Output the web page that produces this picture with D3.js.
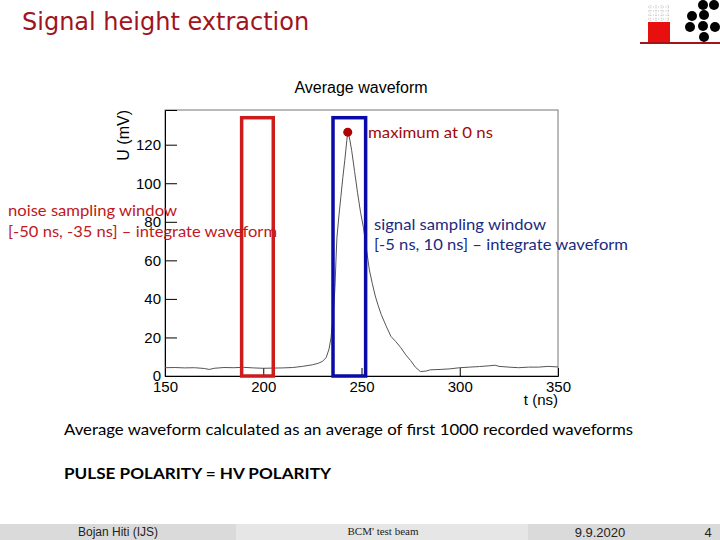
<!DOCTYPE html>
<html>
<head>
<meta charset="utf-8">
<script src="https://cdn.jsdelivr.net/npm/d3@7"></script>
<style>
  html, body { margin: 0; padding: 0; background: #fff; }
  svg { display: block; }
</style>
</head>
<body>
<svg id="chart" width="720" height="540"></svg>
<script>
// ---- data ----
const tValues = [150,155,160,165,170,172.5,175,180,185,190,195,200,205,210,215,220,225,228,230,232,233.5,234.5,235.5,236,236.5,237,237.5,238.5,239.5,240.5,241.5,242.5,243,243.8,245,246.5,248,249.5,251,252.5,254,255.5,257,258.5,260,262.5,265,267.5,270,272.5,275,277.5,280,283,285,290,295,300,305,310,315,318,320,325,330,335,340,345,350];
const uValues = [4.3,4.4,4.2,4.3,3.9,3.4,4.0,4.4,4.3,4.5,4.2,4.0,4.1,4.2,4.4,5.0,5.8,6.6,7.5,9.5,14,20,30,38,46,60,72,83,93,103,112,122,126.5,124,117,106,95,85,77,66,55,48,41.5,36.5,32,26,20.5,17.8,14.7,11,8,4.5,2.3,2.6,3.2,3.4,3.7,4.3,4.6,4.9,5.3,5.6,5.0,4.6,4.3,4.6,4.6,5.0,4.7];
const peakPoint = [243, 126.5];
const noiseWindow = [189, 205.1];
const signalWindow = [235.5, 252.1];
const windowTop = 134;
const xMajorTicks = [150,200,250,300,350];
const xMinorTicks = d3.range(150, 351, 10);
const yMajorTicks = [0,20,40,60,80,100,120];
const yMinorTicks = d3.range(0, 136, 5);

const svg = d3.select("#chart");

// ---- slide title ----
svg.append("text").attr("x", 22).attr("y", 30)
  .attr("font-family", "DejaVu Sans").attr("font-size", 24)
  .attr("fill", "#a0141e").text("Signal height extraction");

// ---- logo ----
const logo = svg.append("g");
logo.append("rect").attr("x", 648).attr("y", 22).attr("width", 22).attr("height", 21).attr("fill", "#e8100f");
for (let i = 0; i < 4; i++) {
  logo.append("line").attr("x1", 650 + i*6).attr("x2", 650 + i*6).attr("y1", 5).attr("y2", 22)
    .attr("stroke", "#999").attr("stroke-width", 0.6).attr("stroke-dasharray", "1,1.5");
  logo.append("line").attr("x1", 648).attr("x2", 670).attr("y1", 7 + i*4).attr("y2", 7 + i*4)
    .attr("stroke", "#999").attr("stroke-width", 0.6).attr("stroke-dasharray", "1,1.5");
}
logo.append("line").attr("x1", 640).attr("x2", 720).attr("y1", 43).attr("y2", 43).attr("stroke", "#a0141e").attr("stroke-width", 2);
[[703,5],[714,5],[692,16],[704,15],[690,27],[703,26],[715,27],[704,37]].forEach(p =>
  logo.append("circle").attr("cx", p[0]).attr("cy", p[1]).attr("r", 5).attr("fill", "#000"));

// ---- plot ----
const x = d3.scaleLinear().domain([150, 350]).range([165, 558]);
const y = d3.scaleLinear().domain([0, 138]).range([376, 110]);

const rootFont = "Liberation Sans, Arial, Helvetica, sans-serif";

// frame
svg.append("rect").attr("x", x(150)).attr("y", y(138)).attr("width", x(350) - x(150)).attr("height", y(0) - y(138))
  .attr("fill", "none").attr("stroke", "#777").attr("stroke-width", 1);

// axes
const gx = svg.append("g").attr("transform", `translate(0,${y(0)})`);
gx.call(d3.axisBottom(x).tickValues(xMinorTicks).tickSize(-4).tickFormat(""));
gx.call(d3.axisBottom(x).tickValues(xMajorTicks).tickSize(-8).tickPadding(5).tickFormat(d3.format("d")));
gx.selectAll("text").attr("font-family", rootFont).attr("font-size", 15).attr("fill", "#000");
gx.selectAll("path").attr("stroke", "#000");

const gy = svg.append("g").attr("transform", `translate(${x(150)},0)`);
gy.call(d3.axisLeft(y).tickValues(yMinorTicks).tickSize(-6).tickFormat(""));
gy.call(d3.axisLeft(y).tickValues(yMajorTicks).tickSize(-12).tickPadding(4).tickFormat(d3.format("d")));
gy.selectAll("text").attr("font-family", rootFont).attr("font-size", 15).attr("fill", "#000");
gy.selectAll("path").attr("stroke", "#000");

// chart title & axis labels
svg.append("text").attr("x", 361).attr("y", 93).attr("text-anchor", "middle")
  .attr("font-family", rootFont).attr("font-size", 16).text("Average waveform");
svg.append("text").attr("x", 558).attr("y", 405).attr("text-anchor", "end")
  .attr("font-family", rootFont).attr("font-size", 15).text("t (ns)");
svg.append("text").attr("transform", `translate(129,${y(138)}) rotate(-90)`).attr("text-anchor", "end")
  .attr("font-family", rootFont).attr("font-size", 16).text("U (mV)");

// waveform
const line = d3.line().x((d, i) => x(tValues[i])).y(d => y(d));
svg.append("path").datum(uValues).attr("d", line)
  .attr("fill", "none").attr("stroke", "#555").attr("stroke-width", 1);

// windows
svg.append("rect").attr("x", x(noiseWindow[0])).attr("y", y(windowTop))
  .attr("width", x(noiseWindow[1]) - x(noiseWindow[0])).attr("height", y(0) - y(windowTop))
  .attr("fill", "none").attr("stroke", "#cc1c1c").attr("stroke-width", 3.5);
svg.append("rect").attr("x", x(signalWindow[0])).attr("y", y(windowTop))
  .attr("width", x(signalWindow[1]) - x(signalWindow[0])).attr("height", y(0) - y(windowTop))
  .attr("fill", "none").attr("stroke", "#0a0aa8").attr("stroke-width", 3.5);

// peak marker
svg.append("circle").attr("cx", x(peakPoint[0])).attr("cy", y(peakPoint[1])).attr("r", 4.5).attr("fill", "#b00000");

// annotations
const annFont = "Lato, 'Open Sans', sans-serif";
function ann(txt, xx, yy, w, color, size, weight) {
  svg.append("text").attr("x", xx).attr("y", yy).attr("font-family", annFont)
    .attr("font-size", size || 16).attr("font-weight", weight || "normal")
    .attr("fill", color).attr("textLength", w).attr("lengthAdjust", "spacingAndGlyphs").text(txt);
}
ann("noise sampling window", 8, 216, 169, "#c01820");
ann("[-50 ns, -35 ns] \u2013 integrate waveform", 8, 237, 269, "#c01820");
ann("maximum at 0 ns", 368, 138, 125, "#a00a0a");
ann("signal sampling window", 374, 230, 172, "#1c2a80");
ann("[-5 ns, 10 ns] \u2013 integrate waveform", 374, 250, 254, "#1c2a80");
ann("Average waveform calculated as an average of first 1000 recorded waveforms", 64, 435, 569, "#000");
ann("PULSE POLARITY = HV POLARITY", 64, 479, 267, "#000", 16, "bold");

// footer
const footer = svg.append("g");
footer.append("rect").attr("x", 0).attr("y", 524).attr("width", 720).attr("height", 16).attr("fill", "#dadada");
footer.append("rect").attr("x", 236).attr("y", 524).attr("width", 292).attr("height", 16).attr("fill", "#e6e6e6");
footer.append("text").attr("x", 118).attr("y", 536).attr("text-anchor", "middle")
  .attr("font-family", "Liberation Sans Narrow, Liberation Sans, sans-serif").attr("font-size", 12).attr("fill", "#222").text("Bojan Hiti (IJS)");
footer.append("text").attr("x", 383).attr("y", 535).attr("text-anchor", "middle")
  .attr("font-family", "Liberation Serif, serif").attr("font-size", 11).attr("fill", "#222").text("BCM' test beam");
footer.append("text").attr("x", 600).attr("y", 537).attr("text-anchor", "middle")
  .attr("font-family", "Liberation Sans, sans-serif").attr("font-size", 13).attr("fill", "#222").text("9.9.2020");
footer.append("text").attr("x", 708).attr("y", 537).attr("text-anchor", "middle")
  .attr("font-family", "Liberation Sans, sans-serif").attr("font-size", 13).attr("fill", "#222").text("4");
</script>
</body>
</html>
